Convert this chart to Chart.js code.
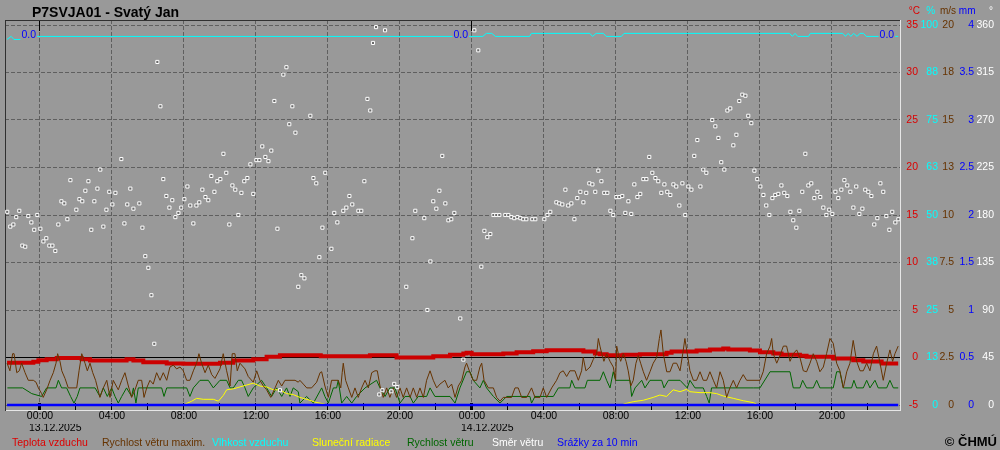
<!DOCTYPE html>
<html><head><meta charset="utf-8">
<script src="https://cdn.jsdelivr.net/npm/chart.js@4.4.1/dist/chart.umd.min.js"></script>
<style>html,body{margin:0;padding:0;background:#999999;}canvas{display:block}</style>
</head><body>
<canvas id="c" width="1000" height="450"></canvas>
<script>
// ---------- texts ----------
const chartTitle = 'P7SVJA01 - Svatý Jan';
const copyrightText = '© ČHMÚ';
const dateLabels = ['13.12.2025', '14.12.2025'];
const dateHours = [0, 24];
const timeTickHours = [0,2,4,6,8,10,12,14,16,18,20,22,24,26,28,30,32,34,36,38,40,42,44,46];
const timeLabels = ['00:00','04:00','08:00','12:00','16:00','20:00','00:00','04:00','08:00','12:00','16:00','20:00'];
const units = ['°C', '%', 'm/s', 'mm', '°'];
const tempTickLabels = ['-5','0','5','10','15','20','25','30','35'];
const humTickLabels  = ['0','13','25','38','50','63','75','88','100'];
const windTickLabels = ['0','2.5','5','7.5','10','13','15','18','20'];
const rainTickLabels = ['0','0.5','1','1.5','2','2.5','3','3.5','4'];
const dirTickLabels  = ['0','45','90','135','180','225','270','315','360'];
const legendLabels = ['Teplota vzduchu','Rychlost větru maxim.','Vlhkost vzduchu','Sluneční radiace','Rychlost větru','Směr větru','Srážky za 10 min'];
const dayTotalHours = [0, 24, 47.68];
const dayTotals = [0.0, 0.0, 0.0];

// ---------- series (hours from 13.12.2025 00:00, value) ----------
const temperature = [[-1.83,-0.56],[-0.37,-0.46],[-0.09,-0.28],[0.37,-0.18],[0.93,-0.04],[2.31,-0.18],[2.78,-0.32],[4.81,-0.18],[5.19,-0.32],[5.74,-0.49],[7.04,-0.63],[7.96,-0.67],[10.0,-0.56],[10.74,-0.32],[11.85,-0.18],[12.59,0.07],[13.33,0.24],[15.6,0.14],[18.33,0.25],[19.81,0.0],[21.85,0.14],[22.78,0.28],[23.52,0.42],[23.7,0.5],[23.98,0.35],[25.74,0.42],[26.48,0.56],[27.4,0.67],[28.15,0.77],[30.19,0.63],[30.83,0.42],[31.11,0.35],[31.48,0.25],[32.41,0.28],[33.33,0.35],[34.81,0.49],[35.09,0.63],[36.48,0.74],[37.22,0.84],[37.96,0.95],[38.24,0.84],[39.44,0.74],[40.0,0.56],[40.74,0.42],[41.2,0.28],[42.22,0.18],[42.59,0.07],[44.07,-0.11],[45.18,-0.28],[45.74,-0.42],[46.76,-0.63],[47.68,-0.63]];

const windMax = [[-1.83,2.2],[-1.67,1.8],[-1.52,2.7],[-1.44,2.7],[-1.29,1.7],[-1.15,1.8],[-1.02,2.2],[-0.83,1.7],[-0.65,1.3],[-0.37,1.3],[-0.22,1.2],[-0.09,0.9],[0.09,0.6],[0.18,0.4],[0.37,0.8],[0.56,1.3],[0.74,1.7],[0.89,2.2],[0.98,2.7],[1.11,2.3],[1.21,1.8],[1.39,1.4],[1.57,0.9],[2.04,0.9],[2.17,1.8],[2.32,2.7],[2.5,2.2],[2.63,1.8],[2.78,2.2],[2.93,1.7],[3.09,1.3],[3.33,0.4],[3.52,0.9],[3.71,1.3],[3.89,0.4],[4.07,1.3],[4.35,0.8],[4.54,1.3],[4.72,1.7],[4.91,1.0],[5.09,0.4],[5.28,0.8],[5.46,1.3],[5.65,1.3],[5.78,0.4],[5.93,0.9],[6.11,1.3],[6.29,1.1],[6.48,1.7],[6.67,1.3],[6.85,1.7],[7.04,1.3],[7.22,2.0],[7.41,2.1],[7.59,1.9],[7.78,2.0],[7.96,1.8],[8.15,1.3],[8.33,1.3],[8.52,1.8],[8.7,2.2],[8.83,2.7],[8.98,2.2],[9.17,1.7],[9.35,2.1],[9.54,1.6],[9.72,1.4],[10.0,1.9],[10.18,2.7],[10.37,1.8],[10.56,1.0],[10.68,2.7],[10.83,2.7],[10.96,1.8],[11.11,2.2],[11.39,1.9],[11.57,1.5],[11.85,1.2],[12.04,1.8],[12.22,1.3],[12.41,1.0],[12.59,0.8],[12.82,0.4],[13.06,0.9],[13.24,1.3],[13.43,1.0],[13.61,1.3],[14.17,1.3],[14.35,1.2],[14.44,1.3],[14.63,1.1],[14.82,0.9],[15.09,0.9],[15.37,1.2],[15.56,1.7],[15.65,1.75],[15.83,1.0],[16.02,0.4],[16.2,1.3],[16.57,1.3],[16.71,0.9],[16.79,1.7],[16.85,2.2],[16.98,1.3],[17.13,0.9],[17.32,0.4],[17.5,0.9],[17.68,0.4],[17.87,0.9],[18.06,1.3],[18.24,0.9],[18.43,1.7],[18.61,1.8],[18.74,1.8],[18.89,1.0],[19.07,0.4],[19.26,0.9],[19.44,0.4],[19.63,0.9],[19.81,0.4],[20.0,0.9],[20.18,0.4],[20.37,0.9],[20.56,0.4],[20.74,0.9],[20.93,0.4],[21.11,0.9],[21.3,0.4],[21.48,1.3],[21.67,1.8],[21.85,1.3],[22.04,0.9],[22.22,1.1],[22.5,1.3],[22.68,0.9],[22.87,1.1],[23.06,0.4],[23.24,1.0],[23.43,1.3],[23.61,2.0],[23.7,2.2],[23.89,1.7],[24.07,1.3],[24.26,1.3],[24.44,2.0],[24.54,2.2],[24.67,1.3],[24.91,0.9],[25.19,0.9],[25.37,0.4],[25.56,0.2],[25.74,0.4],[26.2,0.4],[26.39,0.9],[26.57,0.9],[26.76,0.4],[27.04,0.4],[27.31,0.9],[27.5,0.4],[27.78,0.4],[27.96,0.9],[28.15,0.4],[28.43,0.9],[28.7,1.3],[28.89,1.7],[29.07,1.8],[29.26,1.5],[29.44,1.8],[29.72,1.8],[29.91,1.3],[30.09,1.8],[30.18,2.5],[30.33,1.8],[30.56,2.0],[30.74,2.4],[30.93,2.7],[31.02,3.5],[31.11,3.1],[31.21,2.7],[31.33,2.3],[31.48,2.7],[31.67,2.3],[31.85,2.0],[31.98,1.3],[32.04,3.1],[32.13,2.7],[32.26,2.3],[32.41,2.7],[32.56,2.3],[32.68,1.8],[32.82,1.0],[32.96,1.3],[33.11,2.2],[33.24,2.6],[33.37,2.2],[33.52,1.75],[33.7,1.3],[33.89,1.75],[34.07,2.2],[34.26,2.5],[34.41,3.5],[34.5,3.95],[34.63,2.7],[34.82,1.75],[35.0,1.75],[35.18,2.2],[35.37,2.2],[35.56,1.8],[35.71,2.7],[35.83,3.5],[35.96,2.7],[36.11,1.8],[36.3,1.3],[36.48,1.3],[36.67,1.75],[36.85,1.3],[37.04,1.3],[37.22,1.75],[37.41,1.3],[37.59,0.9],[37.78,1.75],[37.96,1.3],[38.15,0.4],[38.33,0.9],[38.52,1.3],[38.7,0.9],[38.89,1.3],[39.07,1.6],[39.26,1.3],[40.0,1.3],[40.18,1.75],[40.37,2.7],[40.56,3.1],[40.65,3.5],[40.74,2.7],[40.93,2.2],[41.11,2.6],[41.3,3.1],[41.48,3.1],[41.67,2.3],[41.85,2.7],[42.04,2.9],[42.22,2.5],[42.41,1.8],[42.59,1.75],[42.78,2.2],[42.96,2.7],[43.15,2.3],[43.33,1.75],[43.52,2.0],[43.7,2.7],[43.89,3.5],[44.07,3.25],[44.26,2.2],[44.44,1.8],[44.63,0.9],[44.82,1.75],[45.0,2.2],[45.18,3.4],[45.37,2.3],[45.56,1.8],[45.74,1.8],[45.93,2.2],[46.11,1.8],[46.3,2.7],[46.48,3.1],[46.67,2.2],[46.85,1.3],[47.04,2.2],[47.22,2.9],[47.37,2.3],[47.5,2.7],[47.68,3.1]];

const windSpeed = [[-1.81,0.9],[-0.96,0.9],[-0.46,0.6],[0.09,0.45],[0.37,0.9],[0.89,0.9],[1.02,1.3],[1.2,0.9],[1.48,0.9],[1.7,0.45],[1.89,0.1],[2.07,0.45],[2.22,0.9],[3.06,0.9],[3.33,0.45],[3.52,0.9],[3.74,0.45],[3.98,0.9],[4.17,0.45],[4.35,0.1],[4.54,0.45],[4.81,0.9],[5.09,0.45],[5.19,0.9],[5.33,0.1],[5.46,0.9],[6.76,0.9],[6.89,0.45],[7.04,0.9],[8.15,0.9],[8.33,0.45],[8.52,0.9],[8.89,1.3],[9.35,1.3],[9.63,0.9],[10.0,1.3],[10.37,1.3],[10.56,0.9],[10.74,0.9],[11.02,1.3],[11.2,1.3],[11.39,0.9],[11.57,0.45],[11.85,0.9],[12.31,1.3],[12.59,0.9],[12.87,0.45],[13.15,0.9],[13.43,0.45],[13.7,0.9],[13.89,0.45],[14.07,0.9],[14.35,0.7],[14.44,0.1],[14.81,0.45],[15.19,0.1],[15.65,0.9],[15.83,0.45],[16.02,0.1],[16.3,0.9],[16.48,0.9],[16.57,1.3],[16.76,0.1],[17.04,0.45],[17.32,0.1],[17.59,0.45],[18.06,0.9],[18.7,1.3],[18.89,0.9],[19.17,0.45],[19.44,0.9],[19.72,0.9],[20.0,0.1],[20.28,0.45],[20.56,0.45],[20.74,0.1],[21.02,0.45],[21.48,0.45],[21.67,0.9],[21.94,0.45],[22.78,0.45],[23.06,0.1],[23.33,0.9],[23.7,1.75],[23.89,1.75],[24.07,1.3],[24.44,0.9],[24.63,1.3],[24.81,0.9],[25.19,0.45],[25.56,0.1],[25.93,0.45],[27.22,0.45],[27.31,0.1],[27.5,0.45],[28.52,0.45],[28.8,0.9],[29.44,0.9],[29.54,1.3],[29.72,0.9],[30.28,0.9],[30.41,1.3],[31.11,1.3],[31.3,1.75],[31.48,1.3],[31.67,0.9],[31.85,1.75],[31.98,1.3],[32.78,1.3],[32.87,0.45],[33.06,0.9],[33.43,1.3],[33.61,0.9],[33.89,1.3],[34.54,1.3],[34.67,0.9],[34.91,1.3],[35.56,1.3],[35.96,0.9],[36.11,1.3],[36.39,0.9],[36.85,0.9],[37.04,0.45],[37.18,0.1],[37.31,0.9],[39.63,0.9],[40.0,0.9],[40.56,1.75],[41.67,1.75],[41.85,0.9],[42.22,0.9],[42.37,1.3],[42.59,0.9],[42.96,0.9],[43.15,1.3],[43.33,0.9],[44.07,0.9],[44.26,1.75],[44.44,1.75],[44.63,0.9],[45.09,0.9],[45.22,1.3],[45.37,0.9],[45.74,0.9],[45.93,1.3],[46.11,0.9],[46.39,1.3],[46.57,0.9],[47.04,0.9],[47.22,1.3],[47.41,0.9],[47.68,0.9]];

const solar = [[8.06,1],[8.43,4],[8.7,7],[9.07,6],[9.63,6],[9.91,4],[10.18,10],[10.37,16],[10.74,17],[11.11,19],[11.48,21],[11.85,23],[12.22,20],[12.59,19],[12.96,16],[13.33,16],[13.7,12],[14.07,11],[14.44,8],[15.0,5],[15.28,3],[15.83,1],[20,null],[32.41,1],[32.96,3.5],[33.52,5],[34.07,8],[34.44,10.5],[34.81,9],[35.18,16],[35.56,14],[35.93,16.5],[36.11,14],[36.67,13],[37.22,13],[37.59,12],[37.96,9.5],[38.52,7],[39.07,4.5],[39.63,2.5],[39.81,1]];

const humidity = [[-1.83,96.2],[-1.6,97.0],[-1.45,96.2],[-0.95,96.2],[-0.85,97.0],[24.6,97.0],[24.8,97.8],[25.1,97.8],[25.3,97.0],[27.2,97.0],[27.3,97.8],[30.55,97.8],[30.7,97.0],[30.9,97.8],[31.3,97.8],[31.45,97.0],[32.3,97.0],[32.45,97.8],[41.65,97.8],[41.8,97.0],[41.95,97.8],[42.1,97.0],[42.7,97.0],[42.8,97.8],[44.6,97.8],[44.75,97.0],[44.9,97.8],[45.05,97.0],[45.2,97.8],[45.4,97.0],[45.55,97.8],[45.75,97.8],[45.9,97.0],[47.68,97.0]];

const precipitation = [[-1.83,0],[47.68,0]];

const windDirection = [[-1.82,183],[-1.65,169],[-1.48,171],[-1.32,178],[-1.15,184],[-0.98,151],[-0.82,150],[-0.65,179],[-0.48,173],[-0.32,166],[-0.15,180],[0.02,167],[0.19,155],[0.35,158],[0.52,151],[0.69,151],[0.85,146],[1.02,171],[1.19,193],[1.35,191],[1.52,176],[1.69,213],[2.02,185],[2.19,195],[2.35,193],[2.52,203],[2.69,212],[2.85,166],[3.02,193],[3.19,205],[3.35,223],[3.52,169],[3.69,185],[3.85,202],[4.02,190],[4.19,201],[4.52,233],[4.69,172],[4.85,190],[5.02,205],[5.19,186],[5.52,191],[5.69,168],[5.85,141],[6.02,130],[6.19,104],[6.35,58],[6.52,325],[6.69,283],[6.85,214],[7.02,198],[7.19,187],[7.35,194],[7.52,178],[7.69,182],[7.85,187],[8.02,195],[8.19,207],[8.35,189],[8.52,172],[8.69,189],[8.85,192],[9.02,204],[9.19,197],[9.35,194],[9.52,217],[9.69,202],[9.85,212],[10.02,214],[10.19,238],[10.35,220],[10.52,171],[10.69,208],[10.85,204],[11.02,180],[11.19,201],[11.35,212],[11.52,215],[11.69,228],[11.85,200],[12.02,232],[12.19,232],[12.35,245],[12.52,235],[12.69,231],[12.85,241],[13.02,288],[13.19,167],[13.33,14],[13.52,313],[13.69,320],[13.85,266],[14.02,283],[14.19,258],[14.35,112],[14.52,123],[14.69,120],[15.02,274],[15.19,215],[15.35,210],[15.52,140],[15.69,168],[15.85,220],[16.19,148],[16.35,182],[16.52,173],[16.85,184],[17.02,187],[17.19,198],[17.35,190],[17.69,184],[17.85,184],[18.02,212],[18.19,290],[18.35,279],[18.5,343],[18.67,358],[18.85,10],[19.02,14],[19.17,355],[19.52,13],[19.68,20],[19.85,17],[20.35,112],[20.69,158],[20.85,184],[21.35,177],[21.52,90],[21.69,136],[21.85,193],[22.02,186],[22.19,203],[22.35,236],[22.52,191],[22.69,175],[22.85,176],[23.02,182],[23.35,82],[23.52,43],[24.13,355],[24.35,336],[24.52,131],[24.69,165],[24.85,159],[25.02,162],[25.19,180],[25.35,180],[25.52,180],[25.85,180],[26.02,180],[26.19,178],[26.35,177],[26.52,178],[26.69,177],[26.85,176],[27.02,176],[27.35,176],[27.52,176],[28.02,176],[28.19,180],[28.35,183],[28.69,192],[28.85,191],[29.02,190],[29.19,204],[29.35,189],[29.52,191],[29.69,176],[29.85,196],[30.02,202],[30.19,192],[30.35,201],[30.52,210],[30.69,209],[30.85,202],[31.02,222],[31.19,212],[31.35,201],[31.52,201],[31.69,184],[31.85,180],[32.02,197],[32.19,197],[32.35,198],[32.52,182],[32.69,193],[32.85,181],[33.02,209],[33.19,197],[33.35,200],[33.52,214],[33.69,214],[33.85,235],[34.02,220],[34.19,215],[34.35,212],[34.52,201],[34.69,209],[34.85,202],[35.02,199],[35.19,209],[35.35,207],[35.52,189],[35.69,210],[35.85,180],[36.02,207],[36.19,204],[36.35,236],[36.52,251],[36.69,207],[36.85,223],[37.02,220],[37.35,270],[37.52,264],[37.69,253],[37.85,230],[38.02,223],[38.19,279],[38.35,281],[38.52,246],[38.69,256],[38.85,288],[39.02,294],[39.19,293],[39.35,274],[39.52,267],[39.69,222],[39.85,214],[40.02,207],[40.19,199],[40.35,189],[40.52,180],[40.69,196],[40.85,199],[41.02,200],[41.19,208],[41.35,201],[41.52,198],[41.69,183],[41.85,175],[42.02,168],[42.19,184],[42.35,202],[42.52,238],[42.69,208],[42.85,210],[43.02,196],[43.19,202],[43.35,197],[43.52,187],[43.69,180],[43.85,185],[44.02,181],[44.19,202],[44.35,196],[44.52,204],[44.69,213],[44.85,208],[45.02,202],[45.19,187],[45.35,207],[45.52,181],[45.69,186],[45.85,204],[46.02,202],[46.19,198],[46.35,171],[46.52,177],[46.69,210],[46.85,202],[47.02,179],[47.19,166],[47.35,183],[47.52,173],[47.69,176]];

// ---------- styling ----------
const FONT = "'Liberation Sans', Arial, sans-serif";
const C_TEMP = '#cc0000', C_WMAX = '#663300', C_HUM = '#00ffff', C_SUN = '#ffff00',
      C_WIND = '#006600', C_DIR = '#ffffff', C_RAIN = '#0000ff';
const legendColors = ['#dd0000', C_WMAX, C_HUM, C_SUN, C_WIND, C_DIR, C_RAIN];
const legendX = [12, 102, 212, 312, 407, 492, 557];
const unitDx = [2.5, -2, 3, 0.5, -1];
const X_MIN = -1.944, X_MAX = 47.78;

Chart.defaults.font.family = FONT;
Chart.defaults.font.size = 10.5;

const xy = arr => arr.map(p => ({x: p[0], y: p[1]}));
const ext = (lo, hi) => { const e = (hi - lo) / 76; return [lo - e, hi + e]; };

function rightAxis(lo, hi, labels, color, width, pad, main) {
  const r = ext(lo, hi);
  return {
    type: 'linear', position: 'right', min: r[0], max: r[1],
    afterBuildTicks: s => { s.ticks = labels.map((_, i) => ({value: lo + i * (hi - lo) / 8})); },
    afterFit: s => { s.width = width; },
    ticks: {color: color, padding: pad, crossAlign: 'far', autoSkip: false,
            callback: (v, i) => labels[i], font: {size: 10.5}},
    grid: {display: main, drawOnChartArea: main, drawTicks: false, lineWidth: 1,
           color: c => (c.tick && c.tick.value === 0) ? '#000000' : '#5f5f5f'},
    border: {display: main, color: '#e6e6e6', width: 1,
             dash: c => (c.tick && c.tick.value === 0) ? [] : [4, 2]}
  };
}

const sunRange = ext(0, 400);

const decor = {
  id: 'decor',
  afterDatasetsDraw(chart) {
    const ctx = chart.ctx, xs = chart.scales.x, yh = chart.scales.yH;
    ctx.save();
    ctx.font = '10.5px ' + FONT;
    ctx.textBaseline = 'middle';
    ctx.textAlign = 'right';
    dayTotalHours.forEach((h, i) => {
      const t = dayTotals[i].toFixed(1);
      const x = xs.getPixelForValue(h) - 4;
      const y = yh.getPixelForValue(97) - 1.5;
      const w = ctx.measureText(t).width;
      ctx.fillStyle = '#999999';
      ctx.fillRect(x - w - 1, y - 6, w + 2, 12);
      ctx.fillStyle = C_RAIN;
      ctx.fillText(t, x, y);
    });
    ctx.restore();
  },
  afterDraw(chart) {
    const ctx = chart.ctx;
    ctx.save();
    ctx.font = 'bold 14px ' + FONT;
    ctx.fillStyle = '#000';
    ctx.textAlign = 'left';
    ctx.textBaseline = 'alphabetic';
    ctx.fillText(chartTitle, 32, 16.5);
    const ids = ['yT', 'yH', 'yW', 'yP', 'yD'];
    const lbls = [tempTickLabels, humTickLabels, windTickLabels, rainTickLabels, dirTickLabels];
    const cols = ['#dd0000', C_HUM, C_WMAX, C_RAIN, C_DIR];
    ctx.textAlign = 'right';
    ids.forEach((id, i) => {
      const s = chart.scales[id];
      ctx.font = '10.5px ' + FONT;
      const widest = Math.max(...lbls[i].map(t => ctx.measureText(t).width));
      ctx.font = '10px ' + FONT;
      ctx.fillStyle = cols[i];
      ctx.fillText(units[i], s.left + s.options.ticks.padding + widest + unitDx[i], 14);
    });
    ctx.font = '10.5px ' + FONT;
    ctx.textAlign = 'left';
    legendLabels.forEach((t, i) => {
      ctx.fillStyle = legendColors[i];
      ctx.fillText(t, legendX[i], 445.5);
    });
    ctx.font = 'bold 13px ' + FONT;
    ctx.fillStyle = '#000';
    ctx.textAlign = 'right';
    ctx.fillText(copyrightText, 997, 446);
    ctx.restore();
  }
};

new Chart(document.getElementById('c'), {
  type: 'line',
  data: {
    datasets: [
      {label: 'Směr větru', data: xy(windDirection), yAxisID: 'yD', xAxisID: 'x', showLine: false,
       pointStyle: 'rect', pointRadius: 2.2, pointBorderWidth: 1, pointBorderColor: C_DIR,
       pointBackgroundColor: '#6a6a6a'},
      {label: 'Rychlost větru maxim.', data: xy(windMax), yAxisID: 'yW', xAxisID: 'x',
       borderColor: C_WMAX, borderWidth: 1, pointRadius: 0, tension: 0},
      {label: 'Srážky za 10 min', data: xy(precipitation), yAxisID: 'yP', xAxisID: 'x',
       borderColor: C_RAIN, borderWidth: 2.5, pointRadius: 0},
      {label: 'Sluneční radiace', data: xy(solar), yAxisID: 'ySun', xAxisID: 'x',
       borderColor: C_SUN, borderWidth: 1, pointRadius: 0, tension: 0},
      {label: 'Rychlost větru', data: xy(windSpeed), yAxisID: 'yW', xAxisID: 'x',
       borderColor: C_WIND, borderWidth: 1, pointRadius: 0, tension: 0},
      {label: 'Teplota vzduchu', data: xy(temperature), yAxisID: 'yT', xAxisID: 'x',
       borderColor: C_TEMP, borderWidth: 4, pointRadius: 0, stepped: true},
      {label: 'Vlhkost vzduchu', data: xy(humidity), yAxisID: 'yH', xAxisID: 'x',
       borderColor: C_HUM, borderWidth: 1, pointRadius: 0, tension: 0}
    ]
  },
  options: {
    responsive: false, animation: false, devicePixelRatio: 1, events: [],
    layout: {padding: {left: 5, top: 20, right: 6, bottom: 0}},
    plugins: {legend: {display: false}, tooltip: {enabled: false}, title: {display: false}},
    scales: {
      x: {
        type: 'linear', position: 'bottom', min: X_MIN, max: X_MAX,
        afterBuildTicks: s => { s.ticks = timeTickHours.map(v => ({value: v})); },
        afterFit: s => { s.height = 14; },
        ticks: {autoSkip: false, maxRotation: 0, minRotation: 0, padding: 6.5, color: '#000',
                callback: v => (v % 4 === 0) ? timeLabels[v / 4] : ''},
        grid: {drawOnChartArea: true, drawTicks: true, tickLength: -7, lineWidth: 1,
               color: c => (c.tick && c.tick.value % 4 === 0) ? '#5f5f5f' : 'rgba(0,0,0,0)',
               tickColor: '#000',
               tickWidth: c => (c.tick && c.tick.value % 24 === 0) ? 3 : 1},
        border: {display: true, color: '#e6e6e6', width: 1, dash: [4, 2]}
      },
      xd: {
        type: 'linear', position: 'bottom', min: X_MIN, max: X_MAX,
        afterBuildTicks: s => { s.ticks = dateHours.map(v => ({value: v})); },
        afterFit: s => { s.height = 26; },
        ticks: {autoSkip: false, maxRotation: 0, minRotation: 0, align: 'start', labelOffset: -11,
                padding: -2.5, color: '#000', callback: (v, i) => dateLabels[i]},
        grid: {display: false, drawTicks: false},
        border: {display: false}
      },
      xt: {
        type: 'linear', position: 'top', min: X_MIN, max: X_MAX,
        afterBuildTicks: s => { s.ticks = dateHours.map(v => ({value: v})); },
        afterFit: s => { s.height = 0; },
        ticks: {display: false},
        grid: {drawOnChartArea: false, drawTicks: true, tickLength: -11, tickColor: '#000', tickWidth: 1},
        border: {display: true, color: '#303030', width: 1}
      },
      yl: {
        type: 'linear', position: 'left', min: 0, max: 1,
        afterFit: s => { s.width = 0; },
        ticks: {display: false},
        grid: {display: false, drawTicks: false},
        border: {display: true, color: '#303030', width: 1}
      },
      yT: rightAxis(-5, 35, tempTickLabels, '#dd0000', 18, 5.8, true),
      yH: rightAxis(0, 100, humTickLabels, C_HUM, 20, 1.5, false),
      yW: rightAxis(0, 20, windTickLabels, C_WMAX, 16, 0.4, false),
      yP: rightAxis(0, 4, rainTickLabels, C_RAIN, 20, 6.4, false),
      yD: rightAxis(0, 360, dirTickLabels, C_DIR, 20, 2.5, false),
      ySun: {type: 'linear', display: false, min: sunRange[0], max: sunRange[1]}
    }
  },
  plugins: [decor]
});
</script>
</body></html>
